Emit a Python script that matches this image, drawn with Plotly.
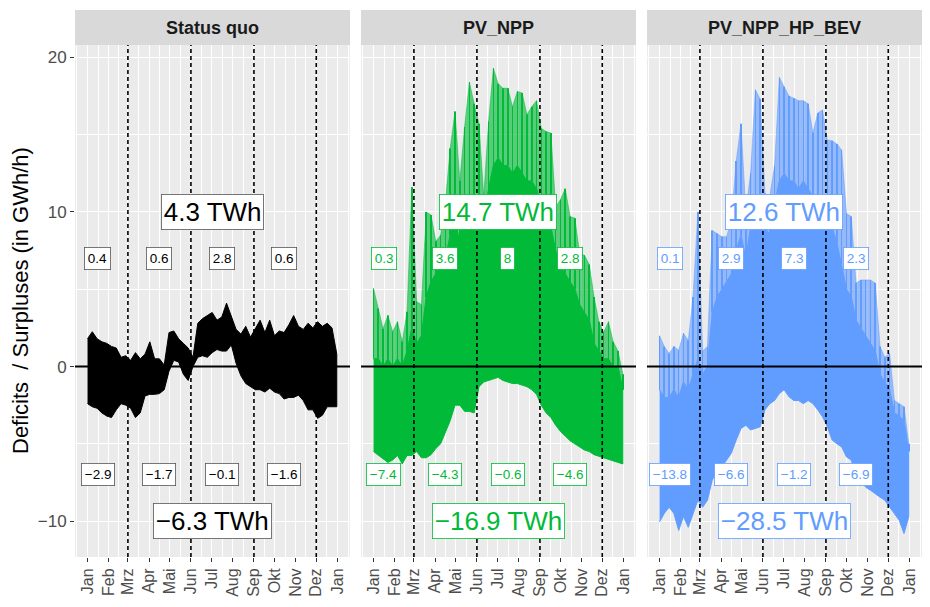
import plotly.graph_objects as go

# ---------------- data ----------------
scenarios = ["Status quo", "PV_NPP", "PV_NPP_HP_BEV"]
scenario_colors = ["#000000", "#00BA38", "#619CFF"]
scenario_rgb = [(0, 0, 0), (0, 186, 56), (97, 156, 255)]

# sampling grid: day of year (0 = 1 Jan), one sample per week
sample_day = list(range(0, 365, 7))

# Status quo: weekly max / min of the hourly balance (GWh/h)
sq_upper = [1.8, 2.25, 1.8, 1.6, 1.5, 1.3, 1.2, 0.6, 0.7, 0.4, 0.9, 0.5, 0.8, 1.6, 0.5, 0.5, 0.1,
            2.2, 2.3, 1.8, 1.5, 1.2, 0.6, 2.8, 3.1, 3.3, 3.5, 3.0, 3.2, 4.1, 3.3, 2.4, 2.1, 2.6,
            1.9, 2.5, 3.0, 2.2, 3.0, 2.0, 2.3, 2.2, 2.7, 3.3, 2.6, 2.4, 2.8, 2.5, 2.9, 2.6, 2.8,
            2.5, 0.8]
sq_lower = [-2.4, -2.6, -2.7, -3.0, -3.2, -3.3, -2.8, -2.4, -2.5, -2.7, -3.3, -3.0, -1.9, -1.8,
            -1.8, -1.75, -1.5, -0.3, 0.4, 0.3, -0.5, -0.9, 0.0, 0.6, 0.7, 0.6, 0.9, 1.1, 1.0, 1.0,
            1.4, 0.2, -0.6, -1.1, -1.3, -1.5, -1.5, -1.65, -1.4, -1.65, -1.75, -2.1, -2.0, -2.0,
            -1.85, -2.2, -2.8, -2.8, -3.35, -3.15, -2.6, -2.6, -2.6]

# PV_NPP: weekly peak, dense upper level and minimum
pv_peak = [5.05, 3.75, 2.45, 3.3, 2.25, 2.9, 1.6, 3.55, 11.6, 4.2, 4.0, 10.0, 9.8, 8.1, 8.5, 10.65,
           14.1, 16.5, 12.0, 15.5, 18.4, 17.0, 15.7, 11.0, 15.85, 19.3, 18.3, 18.0, 18.0, 16.8,
           17.8, 17.7, 16.3, 16.8, 17.2, 15.4, 15.2, 15.1, 10.3, 10.8, 11.5, 9.7, 9.6, 7.3, 7.2,
           6.6, 4.5, 2.9, 2.2, 2.9, 1.6, 1.0, -0.5]
pv_upper = [0.5, 0.5, 0.0, 0.5, 0.0, 0.5, 0.0, 1.0, 2.5, 1.5, 2.0, 4.5, 5.5, 6.0, 6.5, 7.0, 8.5,
            9.5, 8.0, 10.0, 11.0, 11.0, 10.0, 9.5, 11.5, 13.0, 13.5, 13.0, 13.0, 12.5, 13.0, 12.5,
            12.0, 12.0, 11.5, 10.5, 10.0, 9.0, 7.5, 6.5, 6.0, 5.5, 5.0, 4.0, 3.5, 3.0, 1.5, 1.0,
            0.5, 0.5, 0.0, 0.0, -1.5]
pv_lower = [-5.5, -5.7, -5.95, -6.2, -6.05, -5.75, -6.3, -5.75, -5.75, -5.5, -5.9, -5.9, -5.7,
            -5.3, -5.0, -4.3, -3.5, -2.5, -2.5, -2.9, -2.9, -3.0, -1.3, -1.0, -0.9, -0.8, -0.7,
            -0.9, -1.0, -1.1, -1.1, -1.2, -1.3, -1.5, -1.8, -2.5, -3.0, -3.3, -3.8, -4.2, -4.5,
            -4.8, -5.0, -5.2, -5.4, -5.5, -5.7, -5.8, -5.9, -6.0, -6.1, -6.2, -6.3]

# PV_NPP_HP_BEV: weekly peak, dense upper level and minimum
bev_peak = [2.0, 1.3, 0.85, 1.3, 1.05, 2.15, 1.7, 4.5, 10.0, 1.0, 1.3, 8.8, 8.6, 8.4, 8.4, 9.5,
            13.3, 15.7, 10.1, 12.5, 17.9, 17.3, 11.2, 11.0, 13.0, 18.7, 18.1, 17.5, 17.35, 17.2,
            17.2, 17.0, 15.1, 16.4, 16.6, 14.65, 14.6, 14.4, 14.0, 9.9, 9.7, 5.4, 5.6, 5.6, 5.6,
            5.4, 1.3, 0.6, 0.85, -2.2, -2.4, -2.6, -5.0]
bev_upper = [-1.5, -2.0, -2.0, -1.5, -2.0, -1.0, -1.5, -0.5, 0.5, -0.5, 0.0, 3.5, 4.5, 5.0, 5.5,
             6.0, 7.5, 8.5, 7.0, 9.0, 10.0, 10.0, 9.0, 8.5, 10.5, 12.0, 12.5, 12.0, 12.0, 11.5,
             12.0, 11.5, 11.0, 11.0, 10.5, 9.5, 9.0, 8.0, 6.5, 5.0, 4.5, 3.0, 2.5, 2.0, 1.5, 1.0,
             -0.5, -1.0, -1.5, -3.0, -3.2, -3.5, -5.5]
bev_lower = [-10.05, -9.5, -9.1, -9.5, -10.6, -9.7, -10.4, -9.5, -8.65, -9.1, -8.65, -7.35, -6.7,
             -6.5, -6.05, -5.6, -4.75, -4.0, -3.8, -4.1, -4.0, -3.9, -2.8, -2.4, -2.2, -1.75, -1.5,
             -1.95, -2.2, -2.2, -2.4, -2.2, -2.4, -2.8, -3.25, -3.9, -4.75, -5.0, -5.2, -5.85,
             -6.05, -7.15, -7.35, -7.8, -8.0, -8.2, -8.45, -8.65, -9.1, -9.5, -9.95, -10.8, -9.7]

# axis ticks
month_start = [0, 31, 59, 90, 120, 151, 181, 212, 243, 273, 304, 334, 365]
month_labels = ["Jan", "Feb", "Mrz", "Apr", "Mai", "Jun", "Jul", "Aug", "Sep", "Okt", "Nov",
                "Dez", "Jan"]
month_mid = [-15.5, 15.5, 45, 74.5, 105, 135.5, 166, 196.5, 227.5, 258, 288.5, 319, 349.5, 380.5]
y_ticks = [-10, 0, 10, 20]
y_labels = ["\u221210", "0", "10", "20"]
y_minor = [-5, 5, 15]

# seasons
season_start = [59, 151, 243, 334]
season_label_day = [15, 105, 196, 287]
surplus_labels = [["0.4", "0.6", "2.8", "0.6"],
                  ["0.3", "3.6", "8", "2.8"],
                  ["0.1", "2.9", "7.3", "2.3"]]
deficit_labels = [["\u22122.9", "\u22121.7", "\u22120.1", "\u22121.6"],
                  ["\u22127.4", "\u22124.3", "\u22120.6", "\u22124.6"],
                  ["\u221213.8", "\u22126.6", "\u22121.2", "\u22126.9"]]
total_surplus = ["4.3 TWh", "14.7 TWh", "12.6 TWh"]
total_deficit = ["\u22126.3 TWh", "\u221216.9 TWh", "\u221228.5 TWh"]
total_label_day = 182
season_label_y = [7, -7]
total_label_y = [10, -10]

# ---------------- figure ----------------
FONT = "Liberation Sans, Arial, sans-serif"
OFF = 8  # page body margin
W, H = 930 - OFF, 607 - OFF
panel_px = [(75 - OFF, 350 - OFF), (361 - OFF, 636 - OFF), (647 - OFF, 922 - OFF)]
ML, MT = 75 - OFF, 45 - OFF
MR = W - panel_px[2][1]
MB = H - (557 - OFF)
pw = W - ML - MR
ph = H - MT - MB
domains = [[(a - ML) / pw, (b - ML) / pw] for a, b in panel_px]
strip_h = 35 / ph

fig = go.Figure()

series = [
    (sq_upper, sq_upper, sq_lower),
    (pv_peak, pv_upper, pv_lower),
    (bev_peak, bev_upper, bev_lower),
]

for i, (peak, upper, lower) in enumerate(series):
    n = "" if i == 0 else str(i + 1)
    col = scenario_colors[i]
    r, g, b = scenario_rgb[i]
    if i > 0:
        soft = "rgba(%d,%d,%d,0.62)" % (r, g, b)
        fig.add_trace(go.Scatter(
            x=sample_day + sample_day[::-1],
            y=peak + upper[::-1],
            fill="toself", fillcolor=soft, mode="lines",
            line=dict(color=soft, width=0.8),
            xaxis="x" + n, yaxis="y" + n, hoverinfo="skip", showlegend=False))
        fig.add_trace(go.Bar(
            x=sample_day,
            y=[p - u for p, u in zip(peak, upper)],
            base=upper, width=0.9,
            marker=dict(color=col, line=dict(width=0)),
            xaxis="x" + n, yaxis="y" + n, hoverinfo="skip", showlegend=False))
    fig.add_trace(go.Scatter(
        x=sample_day + sample_day[::-1],
        y=upper + lower[::-1],
        fill="toself", fillcolor=col, mode="lines",
        line=dict(color=col, width=1),
        xaxis="x" + n, yaxis="y" + n, hoverinfo="skip", showlegend=False))

layout = dict(
    width=W, height=H,
    margin=dict(l=ML, r=MR, t=MT, b=MB),
    paper_bgcolor="white", plot_bgcolor="#EBEBEB",
    font=dict(family=FONT, color="#4D4D4D"),
    showlegend=False, hovermode=False, barmode="overlay",
)

shapes = []
annotations = []
for i in range(3):
    n = "" if i == 0 else str(i + 1)
    xa = dict(
        domain=domains[i], anchor="y" + n, range=[-18.25, 383.25],
        tickmode="array", tickvals=month_start, ticktext=month_labels, tickangle=-90,
        ticks="outside", ticklen=4, tickwidth=1.2, tickcolor="#333333",
        tickfont=dict(size=16, color="#4D4D4D", family=FONT),
        showgrid=True, gridcolor="white", gridwidth=1.4, zeroline=False, showline=False,
        minor=dict(tickvals=month_mid, showgrid=True, gridcolor="white", gridwidth=0.7, ticks=""),
        fixedrange=True,
    )
    ya = dict(
        domain=[0, 1], anchor="x" + n, range=[-12.32, 20.8],
        tickmode="array", tickvals=y_ticks, ticktext=y_labels,
        ticks="outside" if i == 0 else "", ticklen=4, tickwidth=1.2, tickcolor="#333333",
        showticklabels=(i == 0),
        tickfont=dict(size=17, color="#4D4D4D", family=FONT),
        showgrid=True, gridcolor="white", gridwidth=1.4, zeroline=False, showline=False,
        minor=dict(tickvals=y_minor, showgrid=True, gridcolor="white", gridwidth=0.7, ticks=""),
        fixedrange=True,
    )
    layout["xaxis" + n] = xa
    layout["yaxis" + n] = ya

    # strip
    shapes.append(dict(type="rect", xref="paper", yref="paper",
                       x0=domains[i][0], x1=domains[i][1], y0=1, y1=1 + strip_h,
                       fillcolor="#D9D9D9", line=dict(width=0), layer="below"))
    annotations.append(dict(xref="paper", yref="paper", x=(domains[i][0] + domains[i][1]) / 2,
                            y=1 + strip_h / 2, text="<b>" + scenarios[i] + "</b>",
                            showarrow=False, font=dict(size=18, color="#1A1A1A", family=FONT),
                            xanchor="center", yanchor="middle"))
    # zero line
    shapes.append(dict(type="line", xref="x" + n + " domain", yref="y" + n,
                       x0=0, x1=1, y0=0, y1=0, line=dict(color="black", width=2), layer="above"))
    # season borders
    for d in season_start:
        shapes.append(dict(type="line", xref="x" + n, yref="y" + n + " domain",
                           x0=d, x1=d, y0=0, y1=1,
                           line=dict(color="black", width=1.6, dash="4px,3px"), layer="above"))
    col = scenario_colors[i]
    bcol = "#555555" if i == 0 else col
    for j, d in enumerate(season_label_day):
        for labels, yv in ((surplus_labels, season_label_y[0]), (deficit_labels, season_label_y[1])):
            annotations.append(dict(xref="x" + n, yref="y" + n, x=d, y=yv, text=labels[i][j],
                                    showarrow=False, bgcolor="white", bordercolor=bcol,
                                    borderwidth=0.8, borderpad=3,
                                    font=dict(size=13.5, color=col, family=FONT)))
    for txt, yv in ((total_surplus[i], total_label_y[0]), (total_deficit[i], total_label_y[1])):
        annotations.append(dict(xref="x" + n, yref="y" + n, x=total_label_day, y=yv, text=txt,
                                showarrow=False, bgcolor="white", bordercolor=bcol,
                                borderwidth=0.8, borderpad=2,
                                font=dict(size=26, color=col, family=FONT)))

# y-axis title
annotations.append(dict(xref="paper", yref="paper", x=(20 - OFF - ML) / pw, y=0.5,
                        text="Deficits\u00a0 / Surpluses (in GWh/h)", textangle=-90,
                        showarrow=False, xanchor="center", yanchor="middle",
                        font=dict(size=22, color="black", family=FONT)))

layout["shapes"] = shapes
layout["annotations"] = annotations
fig.update_layout(**layout)

fig.write_html("out.html")
